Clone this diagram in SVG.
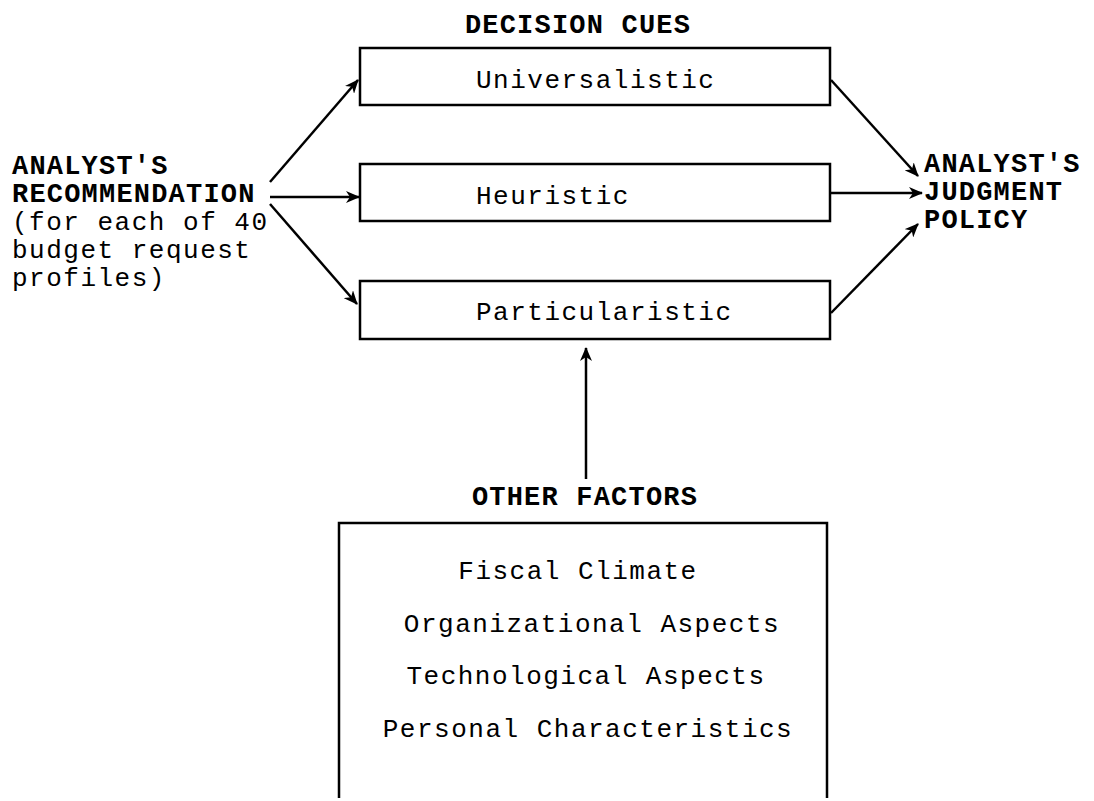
<svg xmlns="http://www.w3.org/2000/svg" width="1094" height="801" viewBox="0 0 1094 801">
<defs>
<style>
.t{font-family:"Liberation Mono","Courier New",monospace;font-size:26px;letter-spacing:1.5px;fill:#000}
.b{font-weight:bold;font-size:27px;letter-spacing:1.2px}
.box{fill:none;stroke:#000;stroke-width:2.5}
.c{fill:none;stroke:#000;stroke-width:2.5}
</style>
<marker id="ah" viewBox="0 0 14 12" refX="13" refY="6" markerWidth="14" markerHeight="12" markerUnits="userSpaceOnUse" orient="auto">
<path d="M0,0 L14,6 L0,12 L4,6 Z" fill="#000"/>
</marker>
</defs>
<rect width="1094" height="801" fill="#fff"/>
<g id="decision-cues-title"><text class="t b" x="578" y="33" text-anchor="middle">DECISION CUES</text></g>
<g id="universalistic"><rect class="box" x="360" y="48" width="470" height="57"/><text class="t" x="476" y="88">Universalistic</text></g>
<g id="heuristic"><rect class="box" x="360" y="164" width="470" height="57"/><text class="t" x="476" y="204">Heuristic</text></g>
<g id="particularistic"><rect class="box" x="360" y="281" width="470" height="58"/><text class="t" x="476" y="320">Particularistic</text></g>
<g id="recommendation">
<text class="t b" x="12" y="174">ANALYST'S</text>
<text class="t b" x="12" y="202">RECOMMENDATION</text>
<text class="t" x="12" y="230">(for each of 40</text>
<text class="t" x="12" y="258">budget request</text>
<text class="t" x="12" y="286">profiles)</text>
</g>
<g id="judgment-policy">
<text class="t b" x="924" y="172">ANALYST'S</text>
<text class="t b" x="924" y="200">JUDGMENT</text>
<text class="t b" x="924" y="228">POLICY</text>
</g>
<g id="other-factors">
<text class="t b" x="585" y="505" text-anchor="middle">OTHER FACTORS</text>
<path class="box" d="M339,798 L339,523 L827,523 L827,798"/>
<text class="t" x="578" y="579" text-anchor="middle">Fiscal Climate</text>
<text class="t" x="592" y="632" text-anchor="middle">Organizational Aspects</text>
<text class="t" x="586" y="684" text-anchor="middle">Technological Aspects</text>
<text class="t" x="588" y="737" text-anchor="middle">Personal Characteristics</text>
</g>
<g id="connectors">
<line class="c" x1="270" y1="182" x2="358" y2="80" marker-end="url(#ah)"/>
<line class="c" x1="270" y1="197" x2="359" y2="197" marker-end="url(#ah)"/>
<line class="c" x1="270" y1="204" x2="357" y2="304" marker-end="url(#ah)"/>
<line class="c" x1="831" y1="80" x2="918" y2="176" marker-end="url(#ah)"/>
<line class="c" x1="831" y1="193" x2="922" y2="193" marker-end="url(#ah)"/>
<line class="c" x1="831" y1="313" x2="918" y2="224" marker-end="url(#ah)"/>
<line class="c" x1="586" y1="479" x2="586" y2="348" marker-end="url(#ah)"/>
</g>
</svg>
